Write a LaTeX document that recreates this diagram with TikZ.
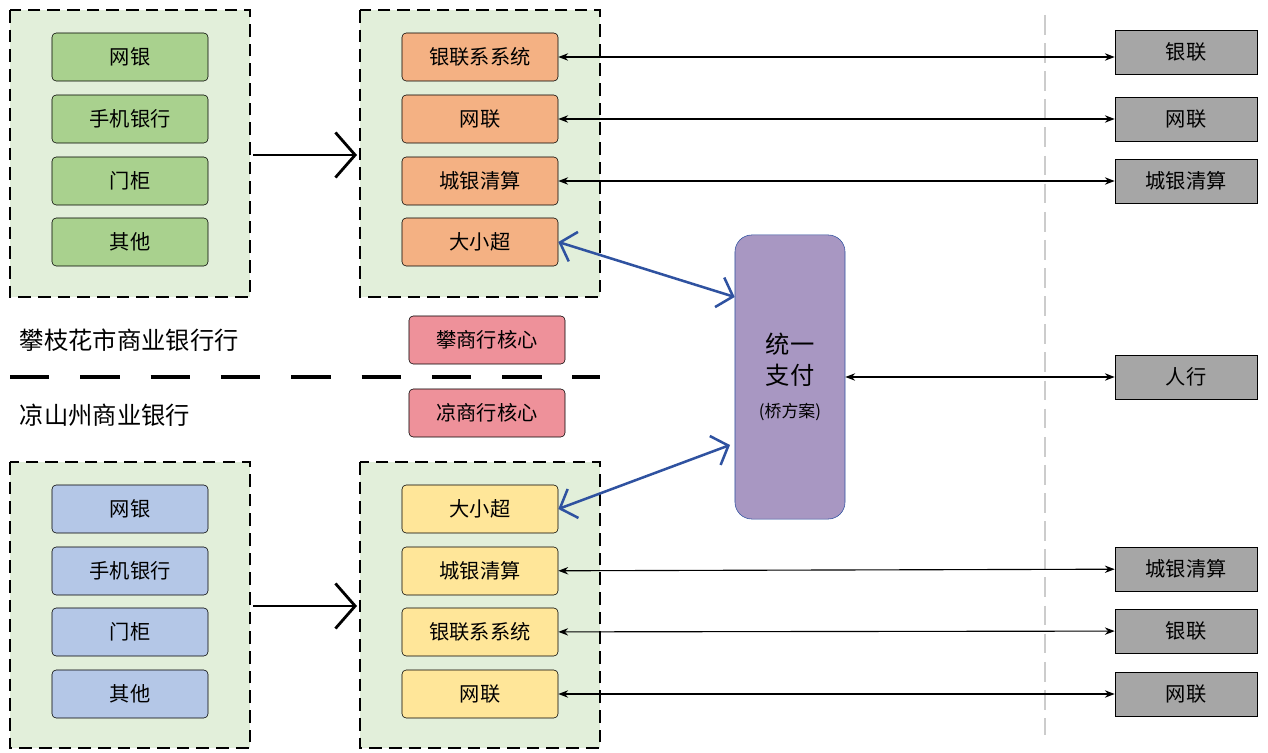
\documentclass[tikz,border=0pt]{standalone}
\usepackage{fontspec}
\setmainfont{Noto Sans CJK SC}
\usetikzlibrary{arrows.meta,positioning}
\definecolor{boxgreen}{HTML}{E2EFDA}
\definecolor{netgreen}{HTML}{A9D18E}
\definecolor{sysorange}{HTML}{F4B183}
\definecolor{sysyellow}{HTML}{FFE699}
\definecolor{netblue}{HTML}{B4C7E7}
\definecolor{extgray}{HTML}{A6A6A6}
\definecolor{corepink}{HTML}{EE919A}
\definecolor{paypurple}{HTML}{A897C2}
\definecolor{linkblue}{HTML}{2F52A0}
\tikzset{
  group/.style={draw,thick,dash pattern=on 9pt off 5pt,fill=boxgreen},
  item/.style={draw,rounded corners=3pt,minimum width=3.9cm,minimum height=1.2cm,font=\Large},
  ext/.style={draw,fill=extgray,minimum width=3.55cm,minimum height=1.1cm,font=\Large},
  link/.style={{Stealth[length=7pt]}-{Stealth[length=7pt]},thick},
  bluelink/.style={{Straight Barb[length=10pt,width=22pt]}-{Straight Barb[length=10pt,width=22pt]},line width=1.8pt,draw=linkblue},
  bigarrow/.style={-{Straight Barb[length=14pt,width=32pt]},line width=2pt}
}
\begin{document}
\begin{tikzpicture}[x=0.025cm,y=-0.025cm]
\useasboundingbox (0,0) rectangle (1268,753);

% groups
\draw [group] (10,10) rectangle (250,297);
\draw [group] (360,10) rectangle (600,297);
\draw [group] (10,462) rectangle (250,748);
\draw [group] (360,462) rectangle (600,748);

% channels
\node [item,fill=netgreen] (t1) at (130,57) {网银};
\node [item,fill=netgreen] (t2) at (130,119) {手机银行};
\node [item,fill=netgreen] (t3) at (130,181) {门柜};
\node [item,fill=netgreen] (t4) at (130,242) {其他};
\node [item,fill=netblue] (b1) at (130,509) {网银};
\node [item,fill=netblue] (b2) at (130,571) {手机银行};
\node [item,fill=netblue] (b3) at (130,632) {门柜};
\node [item,fill=netblue] (b4) at (130,694) {其他};

% systems
\node [item,fill=sysorange] (ts1) at (480,57) {银联系系统};
\node [item,fill=sysorange] (ts2) at (480,119) {网联};
\node [item,fill=sysorange] (ts3) at (480,181) {城银清算};
\node [item,fill=sysorange] (ts4) at (480,242) {大小超};
\node [item,fill=sysyellow] (bs1) at (480,509) {大小超};
\node [item,fill=sysyellow] (bs2) at (480,571) {城银清算};
\node [item,fill=sysyellow] (bs3) at (480,632) {银联系系统};
\node [item,fill=sysyellow] (bs4) at (480,694) {网联};

% cores
\node [item,fill=corepink] (tcore) at (487,340) {攀商行核心};
\node [item,fill=corepink] (bcore) at (487,413) {凉商行核心};

\node [anchor=west,font=\LARGE] (tname) at (15,340) {攀枝花市商业银行行};
\node [anchor=west,font=\LARGE] (bname) at (15,415) {凉山州商业银行};
\draw [line width=2.5pt,dash pattern=on 28pt off 22pt] (10,377) -- (600,377);

% unified payment
\node [draw=linkblue,fill=paypurple,rounded corners=12pt,minimum width=2.75cm,minimum height=7.1cm,align=center,font=\LARGE] (pay) at (790,377) {统一\\支付\\[2pt]{\large (桥方案)}};

% external
\draw [gray!40,line width=1.5pt,dash pattern=on 14pt off 6pt] (1045,15) -- (1045,735);
\node [ext] (e1) at (1186,52) {银联};
\node [ext] (e2) at (1186,119) {网联};
\node [ext] (e3) at (1186,181) {城银清算};
\node [ext] (e4) at (1186,377) {人行};
\node [ext] (e5) at (1186,569) {城银清算};
\node [ext] (e6) at (1186,631) {银联};
\node [ext] (e7) at (1186,694) {网联};

\draw [bigarrow] (253,155) -- (357,155);
\draw [bigarrow] (253,606) -- (357,606);

\draw [link] (ts1) -- (ts1.east -| e1.west);
\draw [link] (ts2) -- (e2);
\draw [link] (ts3) -- (e3);
\draw [link] (pay) -- (e4);
\draw [link] (bs2) -- (e5);
\draw [link] (bs3) -- (e6);
\draw [link] (bs4) -- (e7);

\draw [bluelink] (ts4.east) -- (pay.west |- 297,297) coordinate (pt);
\draw [bluelink] (bs1.east) -- (730,445);
\end{tikzpicture}
\end{document}
